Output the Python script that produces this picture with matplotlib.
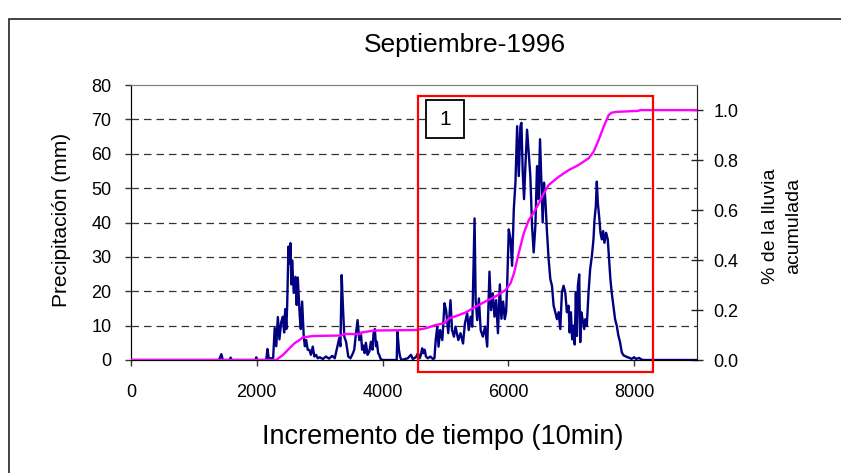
import matplotlib.pyplot as plt
from matplotlib.patches import Rectangle
from matplotlib.ticker import MultipleLocator

plt.rcParams['font.family'] = ['Liberation Sans', 'DejaVu Sans']

# precipitation (mm) vs time step (10 min)
precip_t = [0, 1400, 1437, 1460, 1570, 1585, 1600, 1980, 1992, 2005, 2150, 2170, 2190, 2260,
            2285, 2310, 2335, 2360, 2388, 2415, 2435, 2452, 2470, 2483, 2504, 2520, 2536, 2550,
            2562, 2588, 2615, 2635, 2652, 2684, 2700, 2721, 2747, 2765, 2785, 2810, 2837, 2860,
            2890, 2915, 2943, 2970, 3000, 3050, 3100, 3150, 3200, 3240, 3275, 3312, 3330, 3350,
            3370, 3392, 3420, 3455, 3490, 3525, 3550, 3577, 3603, 3630, 3656, 3675, 3698, 3715,
            3735, 3762, 3790, 3815, 3840, 3857, 3878, 3895, 3910, 3930, 3947, 3970, 4000, 4225,
            4237, 4260, 4278, 4300, 4400, 4452, 4480, 4530, 4563, 4590, 4610, 4630, 4650, 4670,
            4690, 4720, 4760, 4800, 4825, 4845, 4870, 4890, 4915, 4950, 4985, 5010, 5045, 5080,
            5105, 5135, 5160, 5205, 5240, 5280, 5310, 5346, 5370, 5400, 5426, 5463, 5480, 5505,
            5532, 5560, 5595, 5630, 5664, 5700, 5725, 5753, 5780, 5806, 5835, 5865, 5890, 5917,
            5944, 5965, 5981, 6007, 6034, 6060, 6087, 6113, 6140, 6166, 6192, 6208, 6229, 6250,
            6271, 6298, 6324, 6350, 6377, 6403, 6430, 6456, 6480, 6504, 6525, 6546, 6567, 6588,
            6615, 6641, 6668, 6694, 6720, 6747, 6773, 6800, 6826, 6852, 6878, 6905, 6931, 6958,
            6975, 6995, 7015, 7037, 7055, 7074, 7090, 7106, 7127, 7143, 7160, 7180, 7206, 7227,
            7248, 7275, 7301, 7328, 7354, 7370, 7391, 7407, 7423, 7444, 7465, 7486, 7507, 7528,
            7555, 7581, 7602, 7623, 7644, 7671, 7697, 7724, 7750, 7776, 7803, 7829, 7882, 7930,
            7960, 8000, 8030, 8080, 8110, 8150, 9000]
precip_mm = [0, 0, 1.7, 0, 0, 0.7, 0, 0, 0.8, 0, 0, 3.2, 0.5, 0.5,
             9.3, 4, 12.5, 6, 11, 12.6, 8, 14.8, 9, 15.7, 33, 28, 34, 22,
             29, 19.5, 24.2, 16, 24, 12.6, 9, 17, 6.8, 4, 5.8, 3, 2.9, 1.5,
             3.9, 1, 1.5, 0.5, 0.8, 0.3, 1, 0.4, 1.2, 0.5, 3.4, 6.4, 4, 24.7,
             15.5, 6.8, 5.3, 1, 0.5, 1.8, 3, 7.7, 11.6, 5.8, 7.7, 3, 4.2, 2,
             5, 1.5, 2.5, 5.3, 3, 7.7, 9, 4, 5.3, 2, 1.5, 0.3, 0, 0,
             8.2, 3, 1, 0, 0.5, 1.5, 0.3, 0.8, 2, 0.5, 1.5, 3.4, 2, 3,
             1, 0.5, 1, 0.3, 0.5, 5.8, 9.7, 3.9, 8.7, 5.8, 16.5, 14.5, 7.8, 17.4,
             8.7, 6.8, 9.7, 5.8, 7.8, 4.8, 10.7, 13.6, 8.7, 12.6, 9.7, 41.2, 17.4, 11.6,
             17.9, 8.7, 6.8, 9.7, 3.9, 25.7, 14.5, 19.4, 12.6, 17.4, 7.8, 22, 12, 17,
             11.9, 14, 21.6, 38, 35.2, 27.4, 43.9, 51.6, 68, 53.5, 68, 69, 54.5, 46.8,
             56.4, 67, 60.3, 53.5, 39, 31.3, 39, 56.4, 46.8, 64.2, 51.6, 40, 51.6, 46.8,
             37.1, 29.3, 23.5, 21.6, 15.8, 13.9, 11.9, 13.9, 9, 19.7, 21.6, 19.7, 13.9, 15.8,
             8, 13.9, 6, 10, 4.5, 19.6, 7, 21.6, 24.9, 5.2, 13.9, 11.9, 9, 11.9,
             10, 19.6, 26.4, 30.2, 35.1, 40.8, 44.7, 51.9, 45.7, 41.8, 37, 35.1, 37.5, 34.1,
             37, 35.1, 29.3, 23.5, 19.6, 15.8, 11.9, 10, 7.1, 5.2, 2.3, 1.4, 0.9, 0.6,
             0.3, 0.8, 0.3, 0.6, 0.2, 0, 0]

# accumulated rainfall fraction
acum_t = [0, 2310, 2415, 2520, 2600, 2680, 2730, 2890, 3340, 3390, 3650, 3660, 3870, 4530,
          4690, 4845, 4980, 5060, 5160, 5320, 5480, 5640, 5800, 5955, 6035, 6090, 6165, 6245,
          6325, 6405, 6485, 6565, 6640, 6800, 6960, 7115, 7275, 7355, 7435, 7515, 7595, 7645,
          7725, 8070, 8095, 9000]
acum_frac = [0, 0, 0.02, 0.047, 0.067, 0.08, 0.09, 0.096, 0.098, 0.104, 0.104, 0.11, 0.118, 0.12,
             0.127, 0.14, 0.147, 0.167, 0.175, 0.19, 0.213, 0.235, 0.255, 0.28, 0.307, 0.347, 0.427, 0.507,
             0.56, 0.59, 0.627, 0.667, 0.7, 0.733, 0.76, 0.78, 0.807, 0.833, 0.88, 0.933, 0.98, 0.99,
             0.993, 0.997, 1.0, 1.0]

x_ticks = [0, 2000, 4000, 6000, 8000]

W, H = 841, 473
fig = plt.figure(figsize=(W / 100, H / 100), dpi=100)
ax = fig.add_axes([131 / W, 1 - 360 / H, (697 - 131) / W, (360 - 85) / H])

# outer frame (only left and top edges visible in the image)
fig.patches.append(Rectangle((9 / W, -0.2), 1.2, 1 - 19 / H + 0.2, transform=fig.transFigure,
                             fill=False, edgecolor='#222222', lw=1.2))

ax.plot(precip_t, precip_mm, color='#000080', lw=1.7, zorder=3)
ax.set_xlim(0, 9000)
ax.set_ylim(0, 80)
ax.set_xticks(x_ticks)
ax.yaxis.set_major_locator(MultipleLocator(10))
for yy in range(10, 80, 10):
    ax.axhline(yy, color='#333333', lw=0.9, dashes=(6, 4), zorder=1)

for s in ['left', 'bottom']:
    ax.spines[s].set_color('#222222')
ax.spines['top'].set_color('#808080')
ax.spines['right'].set_color('#808080')
ax.tick_params(axis='both', labelsize=13, length=4, width=1, color='#333333')
ax.tick_params(axis='x', pad=13)
ax.tick_params(axis='y', pad=10)

# right axis: 1.0 sits at 72.7 mm on the left scale
k = 72.7
ax2 = ax.twinx()
ax2.plot(acum_t, acum_frac, color='#ff00ff', lw=1.7, zorder=4)
ax2.set_ylim(0, 80 / k)
ax2.set_yticks([0, 0.2, 0.4, 0.6, 0.8, 1.0])
ax2.set_yticklabels(['0.0', '0.2', '0.4', '0.6', '0.8', '1.0'])
ax2.tick_params(axis='y', labelsize=13, direction='inout', length=8, width=1, color='#222222', pad=8)
ax2.spines['right'].set_color('#222222')
ax2.spines['top'].set_color('#808080')

# red highlight box and label
ax2.add_patch(Rectangle((4556, -3.4 / k), 8296 - 4556, (76.8 + 3.4) / k, fill=False,
                        edgecolor='#ff0000', lw=1.6, clip_on=False, zorder=6))
ax2.add_patch(Rectangle((4692, 64.6 / k), 5294 - 4692, (75.6 - 64.6) / k, fc='white', ec='black',
                        lw=1.3, zorder=7))
ax2.text(4993, 70.1 / k, '1', ha='center', va='center', fontsize=15, zorder=8)

fig.text(465 / W, 1 - 45 / H, 'Septiembre-1996', ha='center', va='center', fontsize=19)
fig.text(443 / W, 1 - 437 / H, 'Incremento de tiempo (10min)', ha='center', va='center', fontsize=19.5)
fig.text(62 / W, 1 - 220 / H, 'Precipitación (mm)', ha='center', va='center', fontsize=15,
         rotation=90)
fig.text(782 / W, 1 - 226 / H, '% de la lluvia\nacumulada', ha='center', va='center',
         fontsize=14, rotation=90, linespacing=1.45)

fig.savefig('out.png', dpi=100)
